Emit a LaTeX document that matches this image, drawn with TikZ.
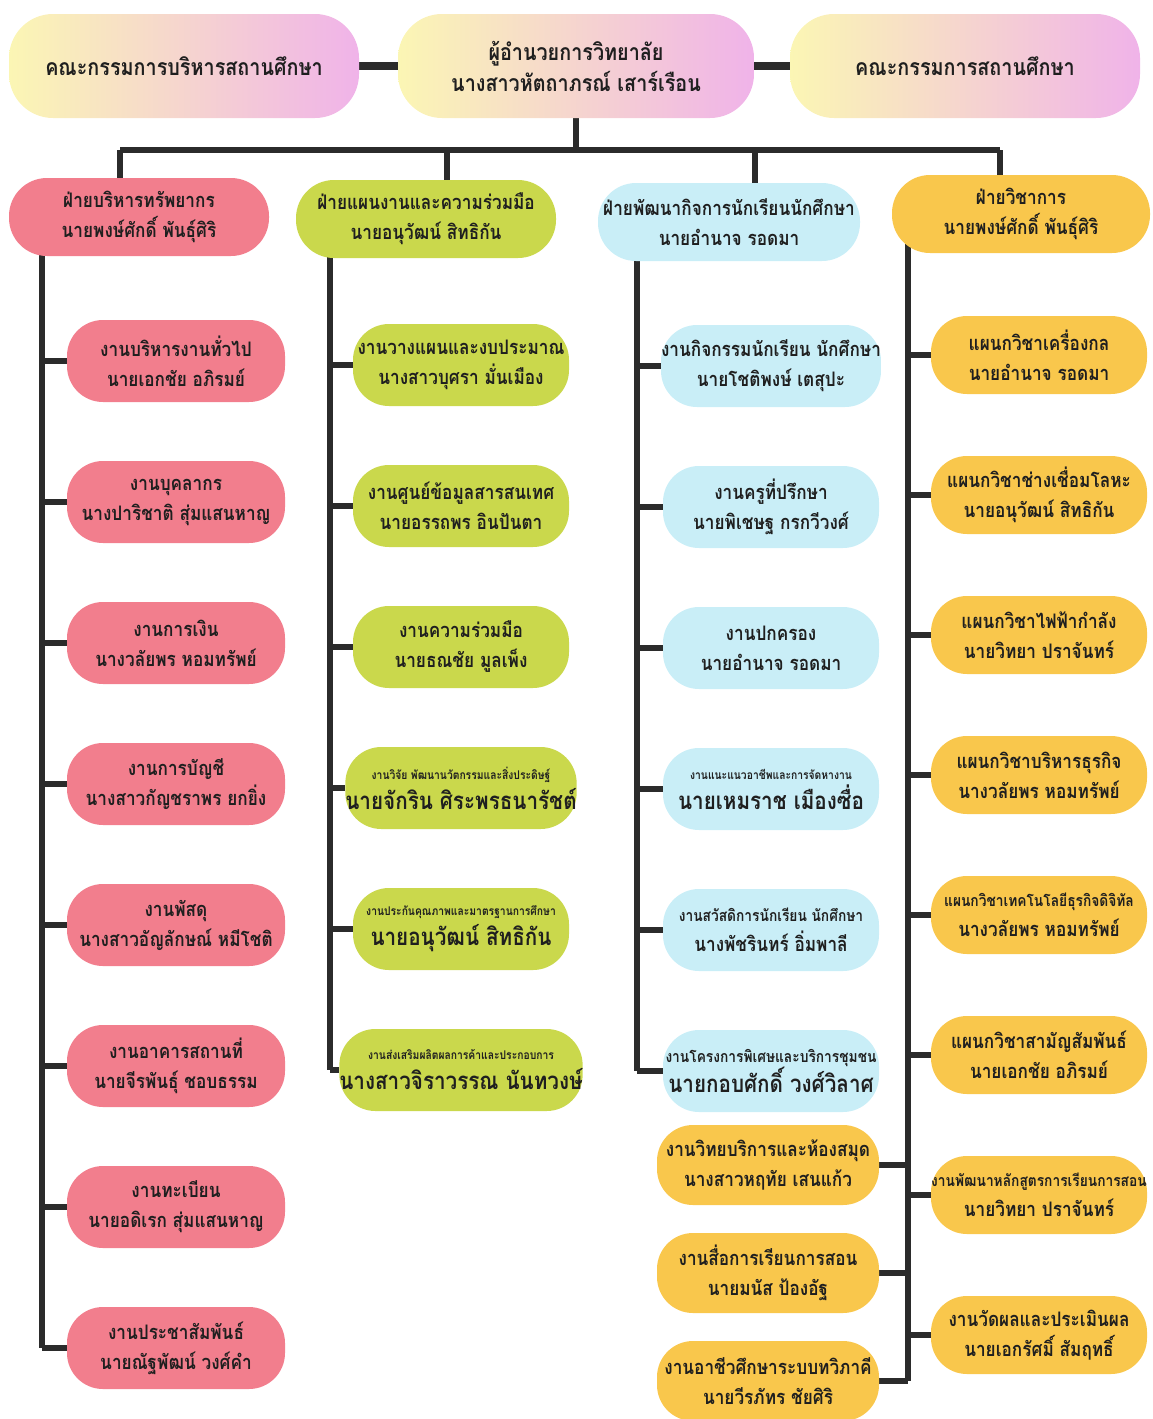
\documentclass[tikz,border=0pt]{standalone}
\usepackage{fontspec}
\newfontfamily\thaifont[Script=Thai, FakeStretch=0.86]{Loma}
\usetikzlibrary{backgrounds}
\definecolor{rosefill}{HTML}{F27E8D}
\definecolor{limefill}{HTML}{CAD84C}
\definecolor{skyfill}{HTML}{C9EEF7}
\definecolor{goldfill}{HTML}{F9C74C}
\definecolor{topyellow}{HTML}{FBF6B4}
\definecolor{toppink}{HTML}{F0B3E9}
\definecolor{inkline}{HTML}{2B2B2B}
\newcommand\smline[1]{{\fontsize{6}{8}\selectfont #1}}
\newcommand\midline[1]{{\fontsize{8}{10}\selectfont #1}}
\newcommand\bgline[1]{{\fontsize{12}{15}\selectfont #1}}

\begin{document}
\begin{tikzpicture}[x=0.5pt, y=-0.5pt,
    font=\thaifont\bfseries\fontsize{10}{15}\selectfont,
    kid/.style={rounded corners=18pt, minimum width=108pt, minimum height=41pt,
      inner sep=0pt, align=center, text=black!88},
    rosekid/.style={kid, fill=rosefill, minimum width=109pt},
    limekid/.style={kid, fill=limefill},
    skykid/.style={kid, fill=skyfill},
    goldkid/.style={kid, fill=goldfill, minimum height=39pt},
    headbox/.style={kid, minimum width=130pt, minimum height=39pt, rounded corners=19pt},
    topbox/.style={kid, minimum width=175pt, minimum height=52pt, rounded corners=22pt,
      left color=topyellow, right color=toppink,
      font=\thaifont\bfseries\fontsize{11.5}{15.5}\selectfont},
    link/.style={line width=2.6pt, draw=inkline}]
  \useasboundingbox (0,0) rectangle (1152,1419);

  \node[topbox] (lboard) at (184,66) {คณะกรรมการบริหารสถานศึกษา};
  \node[topbox, minimum width=178pt] (dir) at (576,66) {ผู้อำนวยการวิทยาลัย\\นางสาวหัตถาภรณ์ เสาร์เรือน};
  \node[topbox] (rboard) at (965,66) {คณะกรรมการสถานศึกษา};

  \node[headbox, fill=rosefill] (rhead) at (139,217) {ฝ่ายบริหารทรัพยากร\\นายพงษ์ศักดิ์ พันธุ์ศิริ};
  \node[headbox, fill=limefill] (lhead) at (426,219) {ฝ่ายแผนงานและความร่วมมือ\\นายอนุวัฒน์ สิทธิกัน};
  \node[headbox, fill=skyfill, minimum width=131pt] (shead) at (729,222) {ฝ่ายพัฒนากิจการนักเรียนนักศึกษา\\นายอำนาจ รอดมา};
  \node[headbox, fill=goldfill, minimum width=129pt] (ghead) at (1021,214) {ฝ่ายวิชาการ\\นายพงษ์ศักดิ์ พันธุ์ศิริ};

  \foreach \a/\b [count=\i] in {งานบริหารงานทั่วไป/นายเอกชัย อภิรมย์,
      งานบุคลากร/นางปาริชาติ สุ่มแสนหาญ, งานการเงิน/นางวลัยพร หอมทรัพย์,
      งานการบัญชี/นางสาวกัญชราพร ยกยิ่ง, งานพัสดุ/นางสาวอัญลักษณ์ หมีโชติ,
      งานอาคารสถานที่/นายจีรพันธุ์ ชอบธรรม, งานทะเบียน/นายอดิเรก สุ่มแสนหาญ,
      งานประชาสัมพันธ์/นายณัฐพัฒน์ วงศ์คำ}
    \node[rosekid] (r\i) at (176,{361+141*(\i-1)}) {\a\\\b};

  \foreach \a/\b [count=\i] in {งานวางแผนและงบประมาณ/นางสาวบุศรา มั่นเมือง,
      งานศูนย์ข้อมูลสารสนเทศ/นายอรรถพร อินปันตา, งานความร่วมมือ/นายธณชัย มูลเพ็ง,
      {\smline{งานวิจัย พัฒนานวัตกรรมและสิ่งประดิษฐ์}}/{\bgline{นายจักริน ศิระพรธนารัชต์}},
      {\smline{งานประกันคุณภาพและมาตรฐานการศึกษา}}/{\bgline{นายอนุวัฒน์ สิทธิกัน}},
      {\smline{งานส่งเสริมผลิตผลการค้าและประกอบการ}}/{\bgline{นางสาวจิราวรรณ นันทวงษ์}}}
    \node[limekid] (l\i) at (461,{365+141*(\i-1)}) {\a\\\b};

  \foreach \a/\b [count=\i] in {งานกิจกรรมนักเรียน นักศึกษา/นายโชติพงษ์ เตสุปะ,
      งานครูที่ปรึกษา/นายพิเชษฐ กรกวีวงศ์, งานปกครอง/นายอำนาจ รอดมา,
      {\smline{งานแนะแนวอาชีพและการจัดหางาน}}/{\bgline{นายเหมราช เมืองซื่อ}},
      {\midline{งานสวัสดิการนักเรียน นักศึกษา}}/นางพัชรินทร์ อิ่มพาลี,
      {\midline{งานโครงการพิเศษและบริการชุมชน}}/{\bgline{นายกอบศักดิ์ วงศ์วิลาศ}}}
    \node[skykid] (s\i) at (771,{366+141*(\i-1)}) {\a\\\b};

  \foreach \a/\b [count=\i] in {แผนกวิชาเครื่องกล/นายอำนาจ รอดมา,
      แผนกวิชาช่างเชื่อมโลหะ/นายอนุวัฒน์ สิทธิกัน, แผนกวิชาไฟฟ้ากำลัง/นายวิทยา ปราจันทร์,
      แผนกวิชาบริหารธุรกิจ/นางวลัยพร หอมทรัพย์,
      {\midline{แผนกวิชาเทคโนโลยีธุรกิจดิจิทัล}}/นางวลัยพร หอมทรัพย์,
      แผนกวิชาสามัญสัมพันธ์/นายเอกชัย อภิรมย์,
      {\midline{งานพัฒนาหลักสูตรการเรียนการสอน}}/นายวิทยา ปราจันทร์,
      งานวัดผลและประเมินผล/นายเอกรัศมิ์ สัมฤทธิ์}
    \node[goldkid] (g\i) at (1039,{355+140*(\i-1)}) {\a\\\b};

  \foreach \a/\b [count=\i] in {งานวิทยบริการและห้องสมุด/นางสาวหฤทัย เสนแก้ว,
      งานสื่อการเรียนการสอน/นายมนัส ป้องอัฐ, งานอาชีวศึกษาระบบทวิภาคี/นายวีรภัทร ชัยศิริ}
    \node[goldkid, minimum width=111pt, minimum height=40pt] (w\i) at (768,{1165+108*(\i-1)}) {\a\\\b};

  \coordinate (jr) at (120,150);
  \coordinate (jl) at (447,150);
  \coordinate (js) at (755,150);
  \coordinate (jg) at (1000,150);
  \coordinate (rspine) at (42,0);
  \coordinate (lspine) at (330,0);
  \coordinate (sspine) at (637,0);
  \coordinate (gspine) at (908,0);

  \begin{scope}[on background layer]
    \draw[link, line width=3.6pt] (lboard.east) -- (dir.west);
    \draw[link, line width=3.6pt] (dir.east) -- (rboard.west);
    \draw[link] (dir.south) -- (dir.south |- jr);
    \draw[link] (jr) -- (jg);
    \foreach \h/\j in {rhead/jr, lhead/jl, shead/js, ghead/jg}
      \draw[link] (\j) -- (\j |- \h);
    \draw[link] (rspine |- rhead) -- (rspine |- r8);
    \draw[link] (lspine |- lhead) -- (lspine |- l6);
    \draw[link] (sspine |- shead) -- (sspine |- s6);
    \draw[link] (gspine |- ghead) -- (gspine |- w3);
    \foreach \i in {1,...,8} {
      \draw[link] (rspine |- r\i) -- (r\i.west);
      \draw[link] (gspine |- g\i) -- (g\i.west);
    }
    \foreach \i in {1,...,6} {
      \draw[link] (lspine |- l\i) -- (l\i.west);
      \draw[link] (sspine |- s\i) -- (s\i.west);
    }
    \foreach \i in {1,...,3}
      \draw[link] (w\i.east) -- (gspine |- w\i);
  \end{scope}
\end{tikzpicture}
\end{document}
